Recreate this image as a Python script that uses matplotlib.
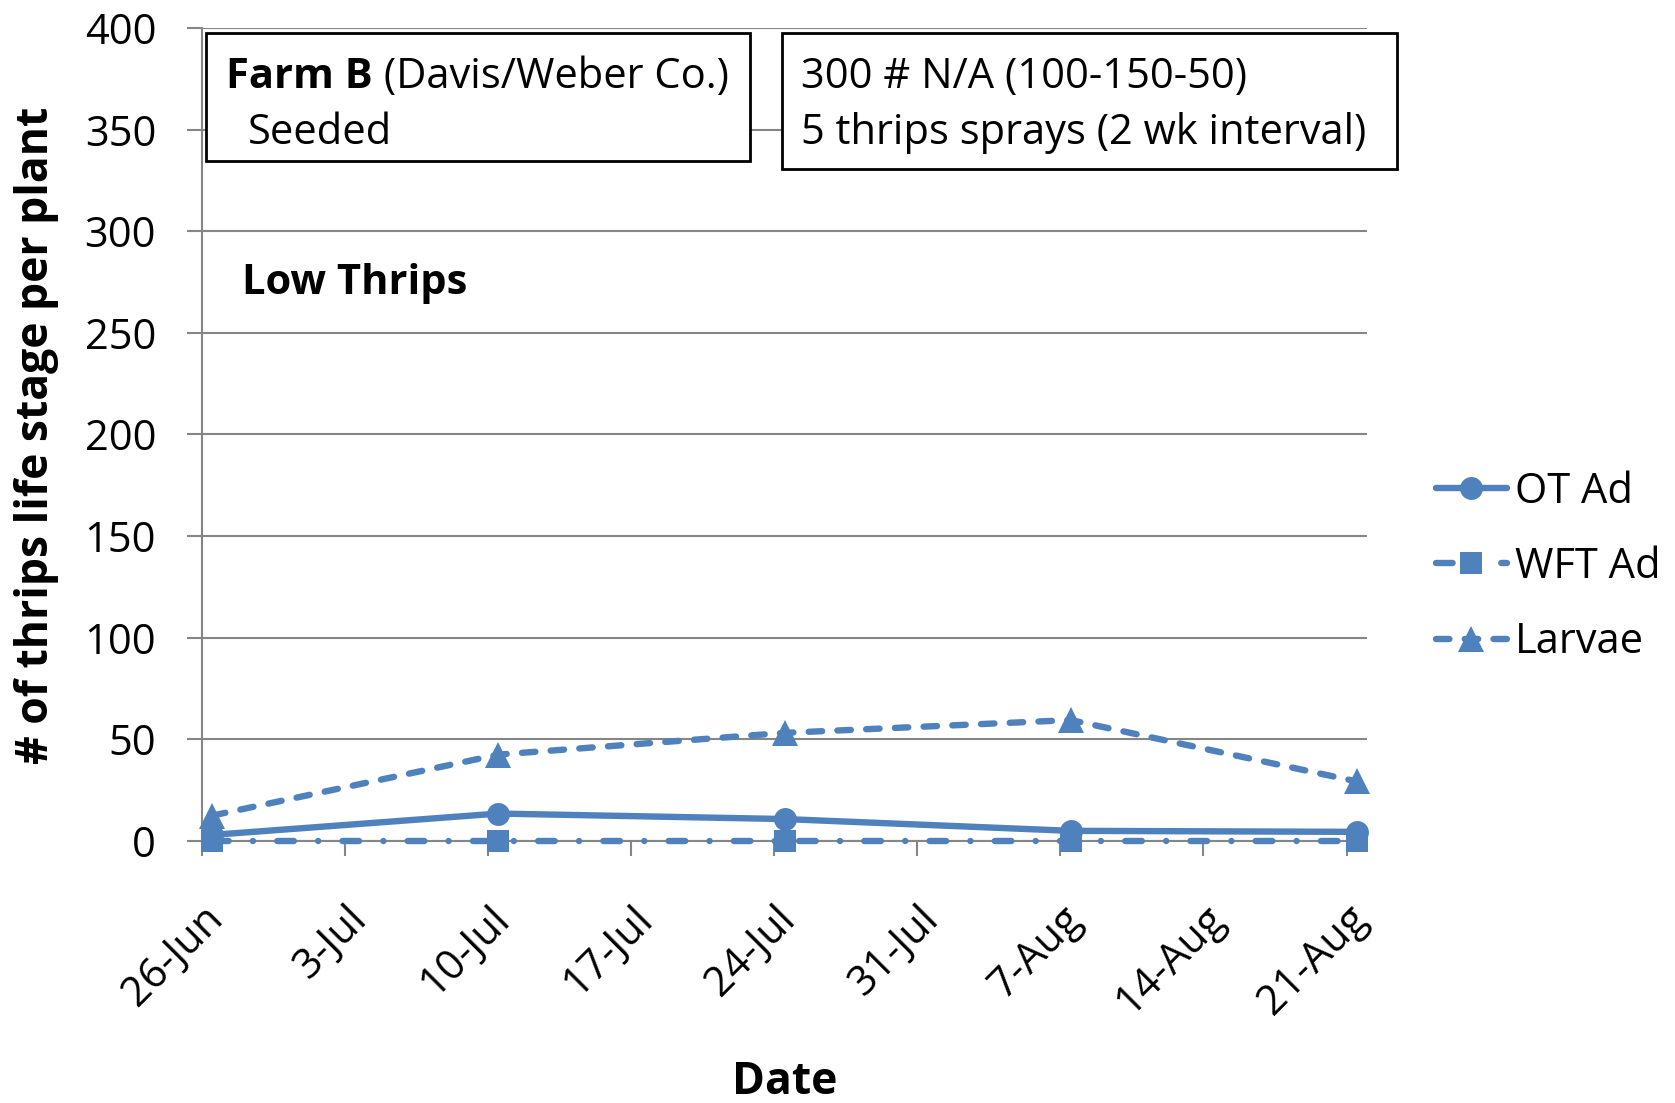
import matplotlib.pyplot as plt
from matplotlib.patches import Rectangle
import numpy as np

plt.rcParams['font.family'] = ['Open Sans', 'DejaVu Sans']

# sampling dates, as days after 26-Jun
sample_days = [0, 14, 28, 42, 56]
tick_labels = ['26-Jun', '3-Jul', '10-Jul', '17-Jul', '24-Jul',
               '31-Jul', '7-Aug', '14-Aug', '21-Aug']

ot_ad = [3, 13.5, 10.8, 5, 4.5]
wft_ad = [0, 0, 0, 0, 0]
larvae = [12.5, 42.5, 53.2, 59.5, 29.3]

blue = '#4F81BD'
grid_c = '#868686'
FS = 30

W, H = 1675, 1103
fig = plt.figure(figsize=(W / 100, H / 100), dpi=100)

def fx(x):
    return x / W

def fy(y):
    return 1 - y / H

ax = fig.add_axes([fx(202), fy(841), fx(1367 - 202), (841 - 28) / H])

# Excel puts each point in the middle of its day slot
xs = np.array(sample_days) + 0.5
common = dict(color=blue, lw=4.6, mew=0, dash_capstyle='round',
              solid_capstyle='round', zorder=3, clip_on=False)
ax.plot(xs, ot_ad, marker='o', ms=16.5, label='OT Ad', **common)
ax.plot(xs, wft_ad, marker='s', ms=16, label='WFT Ad', dashes=(2.6, 3.8, 0.01, 3.8), **common)
ax.plot(xs, larvae, marker='^', ms=19, label='Larvae', dashes=(2.1, 2.4), **common)

ax.set_xlim(0, 57)
ax.set_ylim(0, 400)
ax.set_yticks(range(0, 401, 50))
ax.set_xticks(range(0, 57, 7))
ax.set_xticklabels(tick_labels, rotation=45, ha='right', va='top',
                   rotation_mode='anchor')
ax.tick_params(axis='both', labelsize=FS, color=grid_c, width=1.5, length=11)
ax.tick_params(axis='x', pad=30)
ax.tick_params(axis='y', pad=22)

ax.grid(axis='y', color=grid_c, lw=1.5)
ax.set_axisbelow(True)
for s in ['top', 'right']:
    ax.spines[s].set_visible(False)
for s in ['left', 'bottom']:
    ax.spines[s].set_color(grid_c)
    ax.spines[s].set_linewidth(1.5)

fig.text(fx(785), fy(1094), 'Date', fontsize=32, fontweight='bold', ha='center', va='baseline')
fig.text(fx(37), fy(435), '# of thrips life stage per plant', fontsize=32,
         fontweight='bold', rotation=90, ha='center', va='center')

handles, labels = ax.get_legend_handles_labels()
fig.legend(handles, labels, loc='center left', bbox_to_anchor=(fx(1436), fy(567)),
           frameon=False, fontsize=FS, handlelength=1.7, handletextpad=0.2,
           labelspacing=0.8, borderaxespad=0, borderpad=0)

# annotation boxes
fig.patches.append(Rectangle((fx(206), fy(161)), fx(750 - 206), (161 - 33) / H,
                             transform=fig.transFigure, fc='white',
                             ec='black', lw=2, zorder=5))
fig.patches.append(Rectangle((fx(782), fy(169)), fx(1397 - 782), (169 - 33) / H,
                             transform=fig.transFigure, fc='white',
                             ec='black', lw=2, zorder=5))

t1 = fig.text(fx(226), fy(88), 'Farm B', fontsize=FS, fontweight='bold', va='baseline', zorder=6)
fig.canvas.draw()
bb = t1.get_window_extent()
fig.text(bb.x1 / W, fy(88), ' (Davis/Weber Co.)', fontsize=FS, va='baseline', zorder=6)
fig.text(fx(248), fy(144), 'Seeded', fontsize=FS, va='baseline', zorder=6)
fig.text(fx(801), fy(88), '300 # N/A (100-150-50)', fontsize=FS, va='baseline', zorder=6)
fig.text(fx(801), fy(144), '5 thrips sprays (2 wk interval)', fontsize=FS, va='baseline', zorder=6)
fig.text(fx(242), fy(294), 'Low Thrips', fontsize=FS, fontweight='bold', va='baseline', zorder=6)

fig.savefig('out.png', dpi=100)
